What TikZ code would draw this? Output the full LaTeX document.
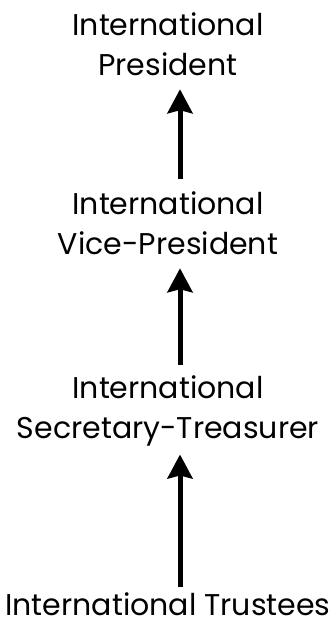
\documentclass[tikz,border=0pt]{standalone}
\usepackage{fontspec}
\setmainfont{Poppins}
\usetikzlibrary{arrows.meta}
\begin{document}
\begin{tikzpicture}[x=1pt,y=-1pt,
  lbl/.style={align=center,inner sep=0pt,font=\fontsize{30}{40}\selectfont},
  up/.style={line width=5pt,-{Stealth[length=24pt,width=25pt,inset=3pt]}}]
\useasboundingbox (0,0) rectangle (336,627);
\node[lbl] (pres) at (168,44.5) {International\\President};
\node[lbl] (vp) at (168,223.5) {International\\Vice-President};
\node[lbl] (st) at (168,411) {International\\Secretary-Treasurer};
\node[lbl] (tr) at (168,604) {International Trustees};
\draw[up,shorten <=13pt,shorten >=13pt] ([xshift=12pt]vp.north) -- ([xshift=12pt]pres.south);
\draw[up,shorten <=11pt,shorten >=13pt] ([xshift=12pt]st.north) -- ([xshift=12pt]vp.south);
\draw[up,shorten <=5pt,shorten >=8pt] ([xshift=12pt]tr.north) -- ([xshift=12pt]st.south);
\end{tikzpicture}
\end{document}
